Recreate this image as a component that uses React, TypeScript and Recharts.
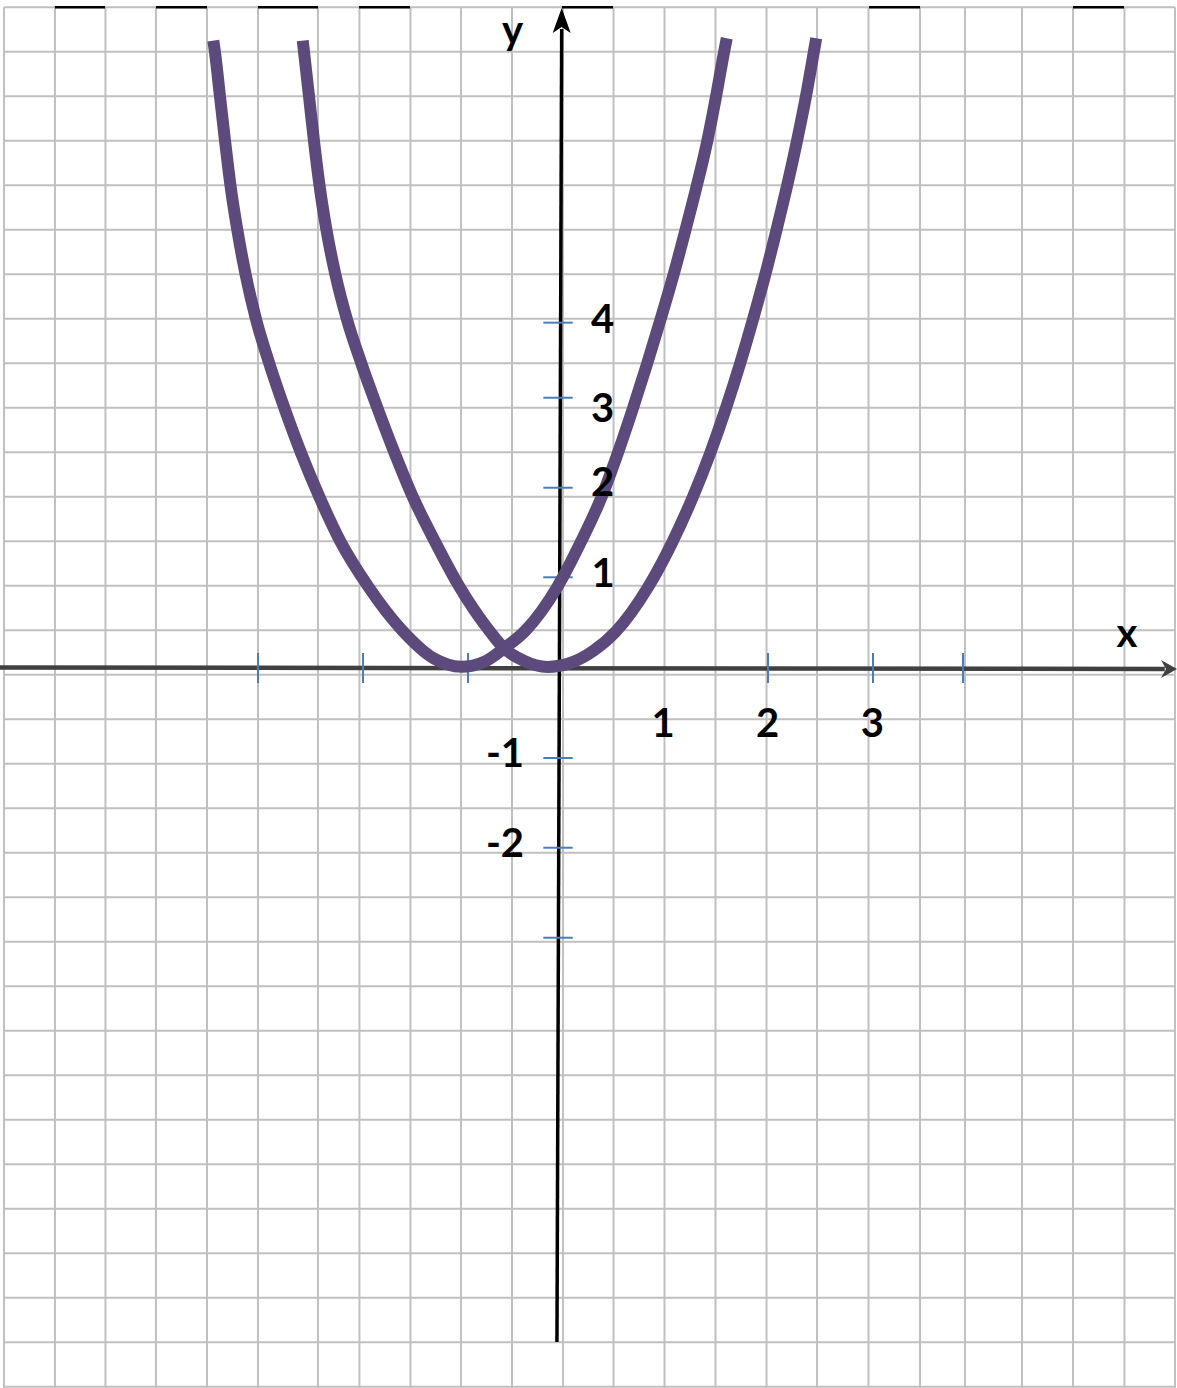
import React from "react"
import { ComposedChart, Line, XAxis, YAxis, ReferenceLine, ReferenceDot } from "recharts"

// chart units: 1 on x = one labelled step on the x axis, 1 on y = one step on the y axis
const X_DOMAIN = [-5.3333, 5.8762]
const Y_DOMAIN = [-8, 7.4222]

// y = (x + 1)^2, as drawn
const leftParabola = [
  { x: -3.302, y: 6.97 },
  { x: -3.286, y: 6.841 },
  { x: -3.238, y: 6.348 },
  { x: -3.19, y: 5.856 },
  { x: -3.138, y: 5.359 },
  { x: -3.073, y: 4.867 },
  { x: -2.993, y: 4.367 },
  { x: -2.895, y: 3.874 },
  { x: -2.767, y: 3.378 },
  { x: -2.624, y: 2.886 },
  { x: -2.467, y: 2.392 },
  { x: -2.29, y: 1.897 },
  { x: -2.09, y: 1.403 },
  { x: -1.83, y: 0.911 },
  { x: -1.5, y: 0.414 },
  { x: -1.2, y: 0.105 },
  { x: -0.94, y: 0.014 },
  { x: -0.72, y: 0.07 },
  { x: -0.533, y: 0.219 },
  { x: -0.33, y: 0.414 },
  { x: -0.02, y: 0.911 },
  { x: 0.2, y: 1.403 },
  { x: 0.395, y: 1.897 },
  { x: 0.552, y: 2.392 },
  { x: 0.695, y: 2.886 },
  { x: 0.829, y: 3.378 },
  { x: 0.958, y: 3.874 },
  { x: 1.081, y: 4.367 },
  { x: 1.195, y: 4.867 },
  { x: 1.303, y: 5.359 },
  { x: 1.403, y: 5.856 },
  { x: 1.486, y: 6.348 },
  { x: 1.562, y: 6.841 },
  { x: 1.588, y: 6.997 },
]

// y = x^2, as drawn
const rightParabola = [
  { x: -2.45, y: 6.97 },
  { x: -2.39, y: 6.348 },
  { x: -2.343, y: 5.856 },
  { x: -2.29, y: 5.359 },
  { x: -2.224, y: 4.867 },
  { x: -2.138, y: 4.367 },
  { x: -2.029, y: 3.874 },
  { x: -1.89, y: 3.378 },
  { x: -1.738, y: 2.886 },
  { x: -1.576, y: 2.392 },
  { x: -1.4, y: 1.897 },
  { x: -1.19, y: 1.403 },
  { x: -0.962, y: 0.911 },
  { x: -0.657, y: 0.39 },
  { x: -0.533, y: 0.219 },
  { x: -0.352, y: 0.085 },
  { x: -0.12, y: 0.012 },
  { x: 0.105, y: 0.058 },
  { x: 0.317, y: 0.19 },
  { x: 0.53, y: 0.403 },
  { x: 0.841, y: 0.903 },
  { x: 1.069, y: 1.397 },
  { x: 1.264, y: 1.897 },
  { x: 1.432, y: 2.392 },
  { x: 1.58, y: 2.886 },
  { x: 1.714, y: 3.378 },
  { x: 1.838, y: 3.874 },
  { x: 1.954, y: 4.367 },
  { x: 2.062, y: 4.867 },
  { x: 2.163, y: 5.359 },
  { x: 2.257, y: 5.856 },
  { x: 2.342, y: 6.348 },
  { x: 2.417, y: 6.841 },
  { x: 2.44, y: 6.997 },
]

// squared paper (the picture's grid is a little uneven)
const gridX = [
  -5.295, -4.81, -4.329, -3.848, -3.362, -2.876, -2.305, -1.91, -1.424, -0.943, -0.457, 0.029,
  0.51, 0.995, 1.481, 1.967, 2.448, 2.938, 3.429, 3.857, 4.4, 4.886, 5.376, 5.857,
]
const gridY = [
  7.341, 6.847, 6.352, 5.858, 5.363, 4.869, 4.374, 3.88, 3.386, 2.891, 2.397, 1.902, 1.408, 0.913,
  0.419, -0.076, -0.57, -1.064, -1.559, -2.053, -2.548, -3.042, -3.537, -4.031, -4.526, -5.02,
  -5.514, -6.009, -6.503, -6.998, -7.492, -7.987,
]
const GRID_LEFT = -5.295
const GRID_RIGHT = 5.857
const GRID_TOP = 7.341

// dark pieces of the top border
const topBorderPieces = [
  [-4.81, -4.333],
  [-3.848, -3.362],
  [-2.876, -2.305],
  [-1.914, -1.429],
  [0.019, 0.505],
  [2.943, 3.429],
  [4.886, 5.371],
]

// tick marks on the axes (hand placed in the original)
const xTicks = [-2.876, -1.876, -0.876, 1.981, 2.981, 3.838]
const yTicks = [3.837, 3.003, 2.003, 1.008, -1.0, -1.997, -2.997]

// text in the picture, at the baseline centre
const labels = [
  { text: "y", x: -0.452, y: 6.938 },
  { text: "x", x: 5.4, y: 0.237 },
  { text: "4", x: 0.405, y: 3.726 },
  { text: "3", x: 0.405, y: 2.728 },
  { text: "2", x: 0.405, y: 1.906 },
  { text: "1", x: 0.41, y: 0.9 },
  { text: "1", x: 0.981, y: -0.763 },
  { text: "2", x: 1.976, y: -0.767 },
  { text: "3", x: 2.974, y: -0.767 },
  { text: "-1", x: -0.524, y: -1.1 },
  { text: "-2", x: -0.524, y: -2.097 },
]

const GRID_COLOR = "#c0c0c0"
const TICK_COLOR = "#4a7ebb"
const CURVE_COLOR = "#5c4a7c"

const XArrow = ({ cx, cy }) => (
  <polygon points={`${cx},${cy} ${cx - 16},${cy - 9} ${cx - 11},${cy} ${cx - 16},${cy + 9}`} fill="#404040" />
)

const YArrow = ({ cx, cy }) => (
  <polygon points={`${cx},${cy} ${cx - 9},${cy + 25} ${cx},${cy + 19} ${cx + 9},${cy + 25}`} fill="#000" />
)

export default function App() {
  return (
    <div style={{ position: "absolute", left: 0, top: 0, width: 1177, height: 1388, background: "#fff" }}>
      <ComposedChart width={1177} height={1388} margin={{ top: 0, right: 0, bottom: 0, left: 0 }}>
        <XAxis type="number" dataKey="x" domain={X_DOMAIN} allowDataOverflow hide />
        <YAxis type="number" dataKey="y" domain={Y_DOMAIN} allowDataOverflow hide />

        {gridX.map((v) => (
          <ReferenceLine
            key={"gx" + v}
            segment={[{ x: v, y: GRID_TOP }, { x: v, y: Y_DOMAIN[0] }]}
            stroke={GRID_COLOR}
            strokeWidth={2}
            ifOverflow="visible"
          />
        ))}
        {gridY.map((v) => (
          <ReferenceLine
            key={"gy" + v}
            segment={[{ x: GRID_LEFT, y: v }, { x: GRID_RIGHT, y: v }]}
            stroke={GRID_COLOR}
            strokeWidth={2}
            ifOverflow="visible"
          />
        ))}
        {topBorderPieces.map(([a, b]) => (
          <ReferenceLine
            key={"tb" + a}
            segment={[{ x: a, y: GRID_TOP }, { x: b, y: GRID_TOP }]}
            stroke="#000"
            strokeWidth={2.5}
            ifOverflow="visible"
          />
        ))}

        {/* axes */}
        <ReferenceLine
          segment={[{ x: X_DOMAIN[0], y: 0.006 }, { x: 5.76, y: -0.011 }]}
          stroke="#404040"
          strokeWidth={4.5}
          ifOverflow="visible"
        />
        <ReferenceLine
          segment={[{ x: 0.016, y: 7.1 }, { x: -0.029, y: -7.489 }]}
          stroke="#000"
          strokeWidth={3.5}
          ifOverflow="visible"
        />
        <ReferenceDot x={X_DOMAIN[1]} y={-0.011} r={0} shape={XArrow} ifOverflow="visible" />
        <ReferenceDot x={0.016} y={7.333} r={0} shape={YArrow} ifOverflow="visible" />

        {xTicks.map((v) => (
          <ReferenceLine
            key={"xt" + v}
            segment={[{ x: v, y: 0.167 }, { x: v, y: -0.167 }]}
            stroke={TICK_COLOR}
            strokeWidth={2}
            ifOverflow="visible"
          />
        ))}
        {yTicks.map((v) => (
          <ReferenceLine
            key={"yt" + v}
            segment={[{ x: -0.159, y: v }, { x: 0.121, y: v }]}
            stroke={TICK_COLOR}
            strokeWidth={2}
            ifOverflow="visible"
          />
        ))}

        {labels.map((l, i) => (
          <ReferenceDot
            key={"lb" + i}
            x={l.x}
            y={l.y}
            r={0}
            ifOverflow="visible"
            shape={({ cx, cy }) => (
              <text
                x={cx}
                y={cy}
                textAnchor="middle"
                fontFamily="Lato, 'DejaVu Sans', sans-serif"
                fontWeight={700}
                fontSize={40}
                fill="#000"
              >
                {l.text}
              </text>
            )}
          />
        ))}

        <Line
          data={leftParabola}
          dataKey="y"
          type="monotone"
          stroke={CURVE_COLOR}
          strokeWidth={12}
          dot={false}
          activeDot={false}
          isAnimationActive={false}
        />
        <Line
          data={rightParabola}
          dataKey="y"
          type="monotone"
          stroke={CURVE_COLOR}
          strokeWidth={12}
          dot={false}
          activeDot={false}
          isAnimationActive={false}
        />
      </ComposedChart>
    </div>
  )
}
